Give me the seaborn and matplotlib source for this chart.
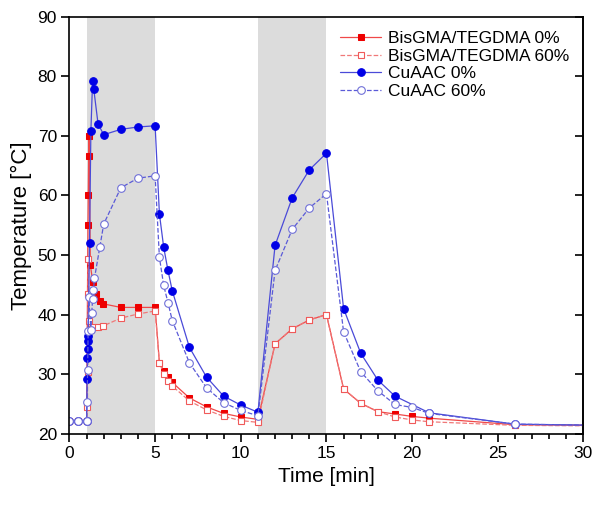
import matplotlib
matplotlib.use("Agg")
import matplotlib.pyplot as plt
from matplotlib.ticker import MultipleLocator
import seaborn as sns

# BisGMA/TEGDMA 0%
t_bis0 = [0, 0.5, 1.0, 1.08, 1.10, 1.12, 1.14, 1.22, 1.36, 1.56, 1.81, 1.97, 3, 4, 5,
          5.25, 5.5, 5.75, 6, 7, 8, 9, 10, 11, 12, 13, 14, 15, 16, 17, 18, 19, 20, 21, 26, 31]
T_bis0 = [22.2, 22.2, 22.2, 55.0, 60.1, 66.6, 70.0, 48.3, 45.5, 43.4, 42.3, 41.8, 41.2, 41.2, 41.2,
          31.9, 30.6, 29.5, 28.6, 26.0, 24.5, 23.4, 22.8, 22.4, 35.1, 37.6, 39.1, 40.0, 27.5, 25.1, 23.7, 23.3, 22.9, 22.6, 21.5, 21.4]

# BisGMA/TEGDMA 60%
t_bis60 = [0, 0.5, 1.0, 1.05, 1.06, 1.08, 1.10, 1.15, 1.23, 1.40, 1.69, 1.97, 3, 4, 5,
           5.25, 5.5, 5.75, 6, 7, 8, 9, 10, 11, 12, 13, 14, 15, 16, 17, 18, 19, 20, 21, 26, 31]
T_bis60 = [22.2, 22.2, 22.2, 24.5, 30.4, 43.4, 49.3, 39.0, 37.5, 37.9, 37.9, 38.1, 39.4, 40.1, 40.6,
           31.9, 30.1, 28.9, 28.0, 25.5, 24.0, 22.9, 22.2, 21.9, 35.1, 37.6, 39.1, 40.0, 27.5, 25.1, 23.7, 22.8, 22.3, 22.0, 21.4, 21.3]

# CuAAC 0%
t_cu0 = [0, 0.5, 1.0, 1.03, 1.05, 1.07, 1.08, 1.09, 1.17, 1.25, 1.35, 1.42, 1.67, 2, 3, 4, 5,
         5.25, 5.5, 5.75, 6, 7, 8, 9, 10, 11, 12, 13, 14, 15, 16, 17, 18, 19, 21, 26, 31]
T_cu0 = [22.2, 22.2, 22.2, 29.1, 32.7, 34.3, 35.5, 36.4, 52.0, 70.8, 79.2, 77.8, 72.0, 70.2, 71.1, 71.5, 71.7,
         56.9, 51.3, 47.4, 44.0, 34.5, 29.5, 26.3, 24.8, 23.6, 51.6, 59.6, 64.3, 67.1, 41.0, 33.5, 29.0, 26.3, 23.5, 21.6, 21.4]

# CuAAC 60%
t_cu60 = [0, 0.5, 1.0, 1.03, 1.06, 1.09, 1.12, 1.25, 1.30, 1.35, 1.40, 1.46, 1.77, 2, 3, 4, 5,
          5.25, 5.5, 5.75, 6, 7, 8, 9, 10, 11, 12, 13, 14, 15, 16, 17, 18, 19, 20, 21, 26, 31]
T_cu60 = [22.2, 22.2, 22.2, 25.3, 30.7, 37.3, 43.0, 37.4, 40.2, 42.6, 44.1, 46.1, 51.3, 55.2, 61.3, 62.9, 63.3,
          49.6, 44.9, 42.0, 39.0, 31.9, 27.7, 25.2, 23.9, 23.0, 47.4, 54.3, 57.9, 60.3, 37.1, 30.4, 27.2, 24.9, 24.4, 23.4, 21.6, 21.4]

light_on = [(1, 5), (11, 15)]

sns.set_style("ticks")
plt.rcParams["font.family"] = ["Liberation Sans", "DejaVu Sans"]
plt.rcParams["text.color"] = "black"
plt.rcParams["axes.labelcolor"] = "black"

fig = plt.figure(figsize=(6.04, 5.09), dpi=100)
ax = fig.add_axes([0.115, 0.148, 0.851, 0.819])

for a, b in light_on:
    ax.axvspan(a, b, color="#dcdcdc", lw=0, zorder=0)

sns.lineplot(x=t_bis0, y=T_bis0, ax=ax, sort=False, estimator=None, color="#f04848", lw=0.9,
             marker="s", markersize=4.5, markerfacecolor="#ee0000", markeredgecolor="#ee0000",
             label="BisGMA/TEGDMA 0%")
sns.lineplot(x=t_bis60, y=T_bis60, ax=ax, sort=False, estimator=None, color="#f07878", lw=0.9,
             linestyle="--", marker="s", markersize=4.5, markerfacecolor="white",
             markeredgecolor="#f05a5a", markeredgewidth=0.8, label="BisGMA/TEGDMA 60%")
sns.lineplot(x=t_cu0, y=T_cu0, ax=ax, sort=False, estimator=None, color="#4a4ad8", lw=0.9,
             marker="o", markersize=5.5, markerfacecolor="#0000e6", markeredgecolor="#0000e6",
             label="CuAAC 0%")
sns.lineplot(x=t_cu60, y=T_cu60, ax=ax, sort=False, estimator=None, color="#5a5ad8", lw=0.9,
             linestyle="--", marker="o", markersize=5.5, markerfacecolor="white",
             markeredgecolor="#7070d8", markeredgewidth=0.8, label="CuAAC 60%")

ax.set_xlim(0, 30)
ax.set_ylim(20, 90)
ax.xaxis.set_major_locator(MultipleLocator(5))
ax.xaxis.set_minor_locator(MultipleLocator(1))
ax.yaxis.set_major_locator(MultipleLocator(10))
ax.tick_params(axis="both", which="major", direction="out", length=5.5, width=1.2,
               labelsize=12.5, color="black", labelcolor="black")
ax.tick_params(axis="x", which="minor", direction="out", length=3.5, width=1.2,
               color="black", bottom=True, top=False)
for s in ax.spines.values():
    s.set_visible(True)
    s.set_linewidth(1.2)
    s.set_color("black")

# inward ticks on the right spine, no labels
sec = ax.secondary_yaxis("right")
sec.yaxis.set_major_locator(MultipleLocator(10))
sec.tick_params(axis="y", which="major", direction="in", length=5.5, width=1.2,
                color="black", labelright=False)
sec.tick_params(axis="y", which="minor", right=False)
sec.spines["right"].set_linewidth(1.2)
sec.spines["right"].set_color("black")

ax.set_xlabel("Time [min]", fontsize=15, color="black")
ax.set_ylabel("Temperature [°C]", fontsize=16, color="black")

leg = ax.legend(loc="upper right", frameon=False, fontsize=12.5, handlelength=2.4,
                labelspacing=0.15, borderaxespad=0.4, handletextpad=0.4)
for txt in leg.get_texts():
    txt.set_color("black")

fig.savefig("out.png", dpi=100)
